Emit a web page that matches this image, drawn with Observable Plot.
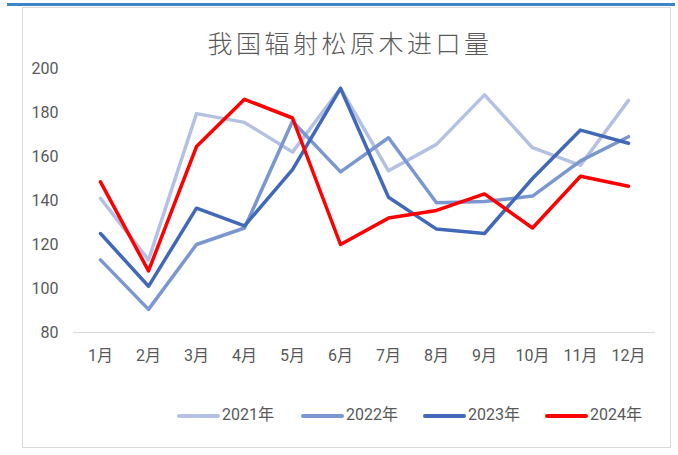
<!DOCTYPE html>
<html>
<head>
<meta charset="utf-8">
<script src="https://cdn.jsdelivr.net/npm/d3@7"></script>
<script src="https://cdn.jsdelivr.net/npm/@observablehq/plot@0.6"></script>
<style>
  body { margin: 0; background: #fff; }
  #wrap { position: relative; width: 678px; height: 455px; overflow: hidden;
          font-family: Roboto, "Noto Sans CJK SC", sans-serif; color: #595959; }
  #bar { position: absolute; left: 7px; top: 3px; width: 668px; height: 3px; background: #3f86c9; }
  #box { position: absolute; left: 22px; top: 7px; width: 647px; height: 439px; border: 1px solid #d9d9d9; }
  #title { position: absolute; left: 0; width: 700px; top: 24px; text-align: center;
           font-family: "Noto Sans CJK SC", sans-serif; font-weight: 300; font-size: 25px; letter-spacing: 3.5px; color: #595959; }
  #chart { position: absolute; left: 0; top: 0; }
  #legend { position: absolute; top: 404px; left: 0; width: 678px; height: 22px; }
  .item { position: absolute; top: 0; font-size: 16px; line-height: 22px; }
  .sw { display: inline-block; width: 43px; height: 4px; border-radius: 2px; vertical-align: middle; margin-right: 2px; }
</style>
</head>
<body>
<div id="wrap">
  <div id="bar"></div>
  <div id="box"></div>
  <div id="chart"></div>
  <div id="title">我国辐射松原木进口量</div>
  <div id="legend"></div>
</div>
<script>
// 月份
const months = ["1月","2月","3月","4月","5月","6月","7月","8月","9月","10月","11月","12月"]
const years = ["2021年","2022年","2023年","2024年"]
const colors = ["#b4c1e2","#7b97d2","#4169b8","#ff0000"]

// 各年进口量
const y2021 = [141, 113, 179.5, 175.5, 162, 191, 153.5, 165.5, 188, 164, 156, 185.5]
const y2022 = [113, 90.5, 120, 127.5, 176, 153, 168.5, 139, 139.5, 142, 158, 169]
const y2023 = [125, 101, 136.5, 128.5, 154, 191, 141.5, 127, 125, 150, 172, 166]
const y2024 = [148.5, 108, 164.5, 186, 177.5, 120, 132, 135.5, 143, 127.5, 151, 146.5]

const series = [y2021, y2022, y2023, y2024]
const data = years.flatMap((yr, i) => months.map((m, j) => ({month: m, year: yr, value: series[i][j]})))

const chart = Plot.plot({
  width: 678,
  height: 455,
  marginLeft: 73,
  marginRight: 23,
  marginTop: 68,
  marginBottom: 123,
  style: {fontFamily: 'Roboto, "Noto Sans CJK SC", sans-serif', fontSize: "16px", color: "#595959", background: "transparent"},
  x: {type: "point", domain: months, padding: 0.5, label: null, tickSize: 0, tickPadding: 17},
  y: {domain: [80, 200], ticks: [80, 100, 120, 140, 160, 180, 200], label: null, tickSize: 0, tickPadding: 15},
  color: {domain: years, range: colors},
  marks: [
    Plot.ruleY([80], {stroke: "#d9d9d9", strokeWidth: 1}),
    Plot.line(data, {x: "month", y: "value", z: "year", stroke: "year",
      strokeWidth: 3.5, strokeLinejoin: "round", strokeLinecap: "round"})
  ]
})
d3.select("#chart").append(() => chart)

// 图例
const legendX = [177, 301, 423, 545]
const legend = d3.select("#legend")
years.forEach((yr, i) => {
  const it = legend.append("div").attr("class", "item").style("left", legendX[i] + "px")
  it.append("span").attr("class", "sw").style("background", colors[i])
  it.append("span").text(yr)
})
</script>
</body>
</html>
